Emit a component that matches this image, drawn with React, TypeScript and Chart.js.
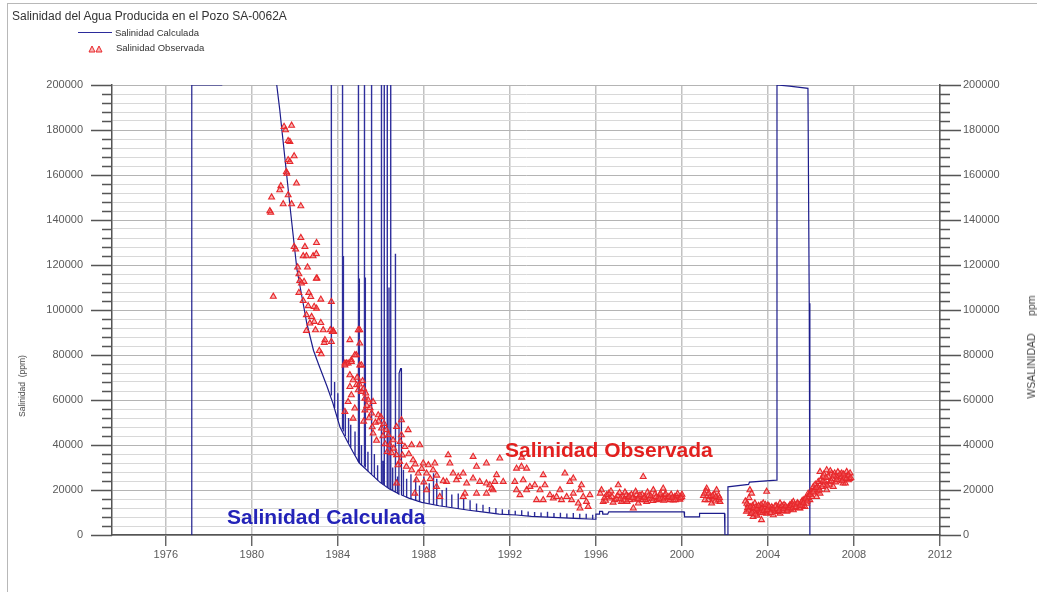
import React, { useEffect, useRef } from "react";
import { Chart, registerables } from "chart.js";

Chart.register(...registerables);

// ---------- Texts ----------
const TITLE = "Salinidad del Agua Producida en el Pozo SA-0062A";
const LEGEND_CALC = "Salinidad Calculada";
const LEGEND_OBS = "Salinidad Observada";
const Y_TITLE_LEFT = "Salinidad  (ppm)";
const Y_TITLE_RIGHT = "WSALINIDAD      ppm";
const NOTE_OBS = "Salinidad Observada";
const NOTE_CALC = "Salinidad Calculada";

// ---------- Axes ----------
const X_MIN = 1973.5;
const X_MAX = 2012;
const xTickYears = [1976, 1980, 1984, 1988, 1992, 1996, 2000, 2004, 2008, 2012];
const Y_MIN = 0;
const Y_MAX = 200000;
const yMajorTicks = [0, 20000, 40000, 60000, 80000, 100000, 120000, 140000, 160000, 180000, 200000];
const Y_MINOR_STEP = 4000;

// ---------- Salinidad Calculada: base curve [year, ppm] ----------
const calcCurve: [number, number][] = [
  [1977.2, 0], [1977.21, 200000], [1978.6, 200000], [1978.66, 250000], [1980.5, 290000],
  [1981.0, 215000], [1981.16, 200000], [1981.3, 189000], [1981.6, 162000], [1981.8, 144000],
  [1981.96, 130000], [1982.1, 118000], [1982.33, 106000], [1982.56, 94000], [1982.87, 82000],
  [1983.1, 76000], [1983.3, 71000], [1983.5, 66000], [1983.77, 58600], [1984.1, 48000],
  [1984.42, 42000], [1984.7, 37000], [1985.0, 32000], [1985.5, 27500], [1985.95, 23500],
  [1986.4, 20500], [1986.74, 18800], [1986.84, 18200], [1986.85, 72000], [1986.92, 74000],
  [1986.95, 74000], [1986.96, 17800], [1987.3, 16400], [1987.9, 14500], [1988.7, 13000],
  [1989.4, 12000], [1990.1, 11000], [1990.8, 10200], [1991.5, 9300], [1992.3, 8900],
  [1993.0, 8300], [1994.0, 7800], [1995.0, 7400], [1995.98, 7000], [1996.0, 9300],
  [1996.15, 9300], [1996.17, 10500], [1996.3, 10500], [1996.32, 9300], [1996.55, 9300],
  [1996.6, 10300], [2000.1, 10300], [2000.12, 8100], [2000.8, 8100], [2000.82, 9600],
  [2001.98, 9600], [2002.0, 0], [2002.1, 0], [2002.14, 21400], [2003.1, 22500],
  [2003.14, 23500], [2004.4, 24400], [2004.42, 200000], [2005.0, 199500], [2005.86, 198500],
  [2005.92, 103000], [2005.95, 0],
];

// ---------- Salinidad Calculada: spikes ----------
const spikeYears = [
  1983.7, 1984.22, 1984.26, 1984.96, 1985.0, 1985.24, 1985.28, 1985.57, 1986.03, 1986.16,
  1986.3, 1986.38, 1986.46, 1986.68,
  1983.85, 1984.0, 1984.35, 1984.5, 1984.6, 1984.8, 1985.1, 1985.4, 1985.7, 1985.85,
  1986.1, 1986.55, 1986.78, 1987.05, 1987.2, 1987.4, 1987.62, 1987.8, 1988.0, 1988.25,
  1988.45, 1988.6, 1988.85, 1989.05, 1989.3, 1989.6, 1989.85, 1990.15, 1990.45, 1990.75,
  1991.05, 1991.35, 1991.65, 1991.95, 1992.25, 1992.55, 1992.85, 1993.15, 1993.45, 1993.75,
  1994.05, 1994.35, 1994.65, 1994.95, 1995.25, 1995.55, 1995.85,
];
const spikeBases = [
  62000, 47000, 46000, 32500, 32000, 30500, 30000, 27000, 23000, 22200,
  21200, 20700, 20200, 19000,
  56500, 51000, 44000, 41000, 39000, 35500, 31000, 28300, 25800, 24300,
  22600, 19800, 18600, 17400, 16800, 16000, 15300, 14800, 14300, 13900,
  13500, 13200, 12800, 12500, 12200, 11700, 11400, 11000, 10600, 10300,
  9900, 9500, 9200, 9100, 8900, 8700, 8400, 8200, 8100, 7900,
  7800, 7700, 7600, 7400, 7300, 7200, 7000,
];
const spikePeaks = [
  260000, 260000, 124000, 260000, 114000, 260000, 114500, 260000, 260000, 260000,
  260000, 110000, 260000, 125000,
  68000, 63000, 56000, 52000, 49000, 46000, 40000, 37000, 36000, 31000,
  33000, 30000, 26000, 29000, 25000, 27000, 25500, 22000, 26000, 23000,
  27500, 25000, 20000, 21000, 18000, 18500, 16000, 15500, 14000, 13500,
  12500, 12000, 11500, 11200, 10800, 11000, 10500, 10200, 10000, 10300,
  9800, 9900, 9600, 9800, 9500, 9400, 9000,
];

// ---------- Salinidad Observada [year, ppm] ----------
const obs1981to1985: [number, number][] = [
  [1981.5, 181500], [1981.85, 182000], [1981.57, 180000], [1981.77, 174800], [1981.69, 175200],
  [1981.97, 168400], [1981.69, 166700], [1981.77, 165900], [1981.61, 161400], [1981.63, 160700],
  [1982.08, 156300], [1981.35, 155100], [1981.3, 153300], [1980.92, 150100], [1981.69, 151100],
  [1981.46, 147100], [1981.85, 147100], [1982.28, 146200], [1980.88, 143300], [1980.84, 144000],
  [1982.28, 132100], [1983.01, 129900], [1981.97, 128100], [1982.47, 128100], [1982.04, 127000],
  [1982.39, 124000], [1982.54, 124000], [1982.85, 124000], [1982.13, 119000], [1982.59, 119000],
  [1982.19, 116000], [1983.03, 114100], [1982.23, 113000], [1982.43, 112600], [1982.31, 111900],
  [1982.19, 107700], [1981.0, 106000], [1982.65, 107700], [1982.74, 105900], [1983.21, 104700],
  [1982.39, 104100], [1983.7, 103700], [1982.62, 101800], [1982.9, 101500], [1983.01, 100700],
  [1982.54, 97800], [1982.78, 97000], [1982.7, 94100], [1982.9, 94800], [1983.21, 94300],
  [1982.54, 90800], [1982.96, 91100], [1983.32, 91100], [1983.78, 90800], [1983.74, 90300],
  [1983.7, 85900], [1983.37, 85500], [1984.56, 86700], [1983.14, 81900], [1983.23, 80400],
  [1985.02, 91100], [1985.02, 85200], [1984.33, 76300], [1984.63, 77800], [1985.02, 75500],
  [1984.86, 80000], [1983.0, 125000], [1983.0, 114000], [1983.65, 91100], [1983.8, 90300],
  [1983.4, 86700], [1984.95, 91100], [1984.4, 76300],
];
const obs1985to1992: [number, number][] = [
  [1984.79, 80000], [1984.48, 76300], [1984.63, 77000], [1984.33, 75500], [1984.56, 71100],
  [1985.1, 75500], [1984.71, 68900], [1984.87, 66700], [1984.56, 65900], [1984.95, 64400],
  [1985.1, 63700], [1984.63, 62200], [1984.48, 59200], [1985.26, 60700], [1985.41, 60000],
  [1985.64, 59200], [1984.79, 56300], [1984.33, 54800], [1985.26, 55500], [1985.57, 54100],
  [1985.88, 53300], [1984.71, 51800], [1986.03, 47400], [1986.96, 51100], [1986.73, 48100],
  [1987.27, 46700], [1986.26, 46700], [1985.64, 45200], [1986.96, 44400], [1986.57, 42200],
  [1986.42, 40000], [1987.43, 40000], [1987.81, 40000], [1987.12, 39200], [1986.73, 35600],
  [1986.88, 32600], [1987.5, 33300], [1987.19, 30400], [1986.8, 31100], [1987.97, 31900],
  [1988.21, 31100], [1988.51, 31900], [1988.43, 28900], [1987.43, 28900], [1987.74, 27400],
  [1988.13, 27400], [1989.13, 35600], [1989.21, 31900], [1989.36, 27400], [1989.6, 25900],
  [1989.83, 27400], [1990.29, 34800], [1990.45, 30400], [1990.91, 31900], [1991.53, 34100],
  [1991.38, 26700], [1991.69, 23700], [1989.06, 23700], [1989.52, 24400], [1989.99, 23000],
  [1990.29, 25200], [1990.6, 23700], [1990.91, 23000], [1991.07, 22200], [1991.22, 20000],
  [1990.45, 18500], [1989.91, 18500], [1989.83, 17000], [1990.91, 18500], [1986.73, 23000],
  [1987.66, 24400], [1988.13, 20000], [1988.59, 21500], [1988.74, 17000], [1987.58, 18500],
  [1991.3, 23700], [1991.15, 20700], [1985.6, 48000], [1985.9, 50500], [1986.1, 44000],
  [1985.8, 42000], [1986.3, 37000], [1986.5, 36500],
  [1984.9, 70000], [1985.0, 67000], [1985.15, 68500], [1985.2, 65000], [1985.3, 63000],
  [1985.35, 57500], [1985.45, 52000], [1985.5, 56500], [1985.2, 50500], [1985.75, 50000],
  [1986.0, 52500], [1986.15, 49500], [1986.35, 44500], [1986.2, 40500], [1986.6, 38500],
  [1986.9, 41500], [1987.0, 35500], [1987.3, 36000], [1987.6, 31500], [1987.9, 29500],
  [1988.0, 23500], [1988.3, 25000], [1988.6, 26500], [1988.9, 24000],
];
const obs1992to2002: [number, number][] = [
  [1992.31, 29600], [1992.78, 29600], [1992.54, 30400], [1992.23, 23700], [1992.62, 24400],
  [1992.31, 20000], [1992.78, 20000], [1992.47, 17800], [1992.93, 21500], [1993.16, 22200],
  [1993.55, 26700], [1993.4, 20000], [1993.63, 22200], [1993.86, 17800], [1993.24, 15600],
  [1993.55, 15600], [1994.02, 16300], [1994.33, 20000], [1994.56, 27400], [1994.79, 23700],
  [1994.95, 25200], [1994.64, 17000], [1994.95, 18500], [1995.26, 20000], [1995.33, 22200],
  [1995.41, 17000], [1995.72, 17800], [1995.64, 12600], [1995.18, 14100], [1994.87, 15600],
  [1994.4, 15600], [1994.17, 17000], [1995.56, 14800], [1995.26, 11900], [1992.55, 34500],
  [1996.26, 20000], [1996.34, 14800], [1996.5, 17800], [1996.65, 16300], [1997.04, 22200],
  [1997.27, 17000], [1997.58, 15600], [1997.74, 11900], [1997.89, 17800], [1998.2, 25900],
  [1998.28, 17000], [1998.51, 16300], [1998.67, 20000], [1998.82, 15600], [1998.98, 17800],
  [1999.13, 20700], [1999.29, 16300], [1999.44, 15600], [1999.67, 17000], [1999.83, 16300],
  [1999.99, 17000], [1998.13, 15600], [1998.36, 14800], [1997.97, 14100], [1996.88, 15600],
  [1997.19, 14800], [1997.42, 17800],
  [1996.4, 16500], [1996.6, 18500], [1996.75, 17000], [1996.95, 16000], [1997.1, 18800],
  [1997.3, 15500], [1997.5, 16800], [1997.65, 18000], [1997.8, 15800], [1998.0, 16800],
  [1998.15, 18000], [1998.3, 15600], [1998.45, 17500], [1998.6, 16000], [1998.75, 18200],
  [1998.9, 16500], [1999.05, 15800], [1999.2, 17800], [1999.35, 16400], [1999.5, 18000],
  [1999.6, 15400], [1999.75, 17300], [1999.9, 15800], [2000.0, 18000],
  [1996.2, 18500], [1996.45, 15300], [1996.7, 19500], [1996.8, 14500], [1997.0, 17500],
  [1997.15, 16200], [1997.35, 19000], [1997.45, 14800], [1997.55, 17200], [1997.7, 16500],
  [1997.85, 19300], [1997.95, 16000], [1998.05, 17700], [1998.25, 16500], [1998.4, 19000],
  [1998.55, 17300], [1998.65, 15200], [1998.8, 17000], [1998.95, 16000], [1999.0, 18500],
  [1999.15, 15300], [1999.25, 18200], [1999.4, 17000], [1999.55, 16600], [1999.7, 15600],
  [1999.8, 18300], [1999.95, 16500],
  [2001.15, 20700], [2001.3, 17000], [2001.22, 15600], [2001.46, 16300], [2001.61, 20000],
  [2001.69, 15600], [2001.77, 14800], [2001.38, 14100], [2001.07, 15600], [2001.0, 17500],
  [2001.12, 19500], [2001.5, 18000], [2001.55, 15000], [2001.7, 17500], [2001.05, 18500],
  [2001.25, 18500], [2001.42, 17500], [2001.58, 17000], [2001.75, 16500],
];
const obs2002to2008: [number, number][] = [
  [2003.16, 20000], [2003.24, 18500], [2003.08, 13300], [2003.0, 10400], [2003.31, 8100],
  [2003.7, 6700], [2003.63, 12600], [2003.94, 19300], [2004.02, 11900], [2004.25, 11100],
  [2004.48, 12600], [2004.79, 11900], [2005.02, 13300], [2005.33, 13300], [2005.64, 15600],
  [2005.87, 18500], [2006.11, 21500], [2006.34, 23700], [2006.42, 28100], [2006.57, 25900],
  [2006.73, 28900], [2006.96, 27400], [2007.2, 25900], [2007.43, 27400], [2007.66, 28100],
  [2007.74, 24400], [2007.5, 23000], [2007.04, 21500], [2006.73, 20000], [2006.42, 18500],
  [2006.26, 17000], [2005.95, 15600], [2005.72, 12600], [2005.49, 11900], [2005.18, 11100],
  [2004.87, 10400], [2004.56, 9600], [2004.25, 8900], [2003.94, 9600], [2003.55, 10400],
  [2003.24, 11900], [2003.39, 14100], [2003.78, 14100], [2004.56, 14100], [2005.18, 14800],
  [2007.35, 25200], [2006.88, 23700], [2006.57, 22200],
  [2002.95, 15000], [2003.05, 12000], [2003.12, 16500], [2003.2, 9500], [2003.28, 13000],
  [2003.35, 10500], [2003.45, 12500], [2003.5, 8700], [2003.6, 11000], [2003.68, 13500],
  [2003.75, 9800], [2003.85, 12000], [2003.92, 10500], [2004.0, 13200], [2004.1, 10000],
  [2004.18, 12400], [2004.3, 11000], [2004.38, 13000], [2004.45, 10300], [2004.6, 12000],
  [2004.7, 10800], [2004.75, 13400], [2004.85, 11800], [2004.95, 12500], [2005.05, 11500],
  [2005.1, 14000], [2005.25, 12300], [2005.4, 13800], [2005.45, 12000], [2005.55, 14500],
  [2005.6, 13000], [2005.7, 15500], [2005.8, 14000], [2005.85, 16500], [2005.9, 17800],
  [2006.0, 19000], [2006.05, 17000], [2006.15, 20000], [2006.2, 22500], [2006.3, 19500],
  [2006.35, 21000], [2006.45, 24500], [2006.5, 21500], [2006.6, 27000], [2006.65, 23500],
  [2006.8, 26000], [2006.85, 22500], [2006.9, 28500], [2007.0, 25000], [2007.1, 27500],
  [2007.15, 23500], [2007.25, 28000], [2007.3, 24500], [2007.4, 26000], [2007.55, 25500],
  [2007.6, 23000], [2007.7, 26500], [2007.8, 25000], [2007.82, 27500],
  [2003.02, 14000], [2003.1, 11000], [2003.18, 12500], [2003.26, 10000], [2003.33, 12000],
  [2003.42, 9200], [2003.48, 11500], [2003.56, 13000], [2003.65, 10000], [2003.72, 11800],
  [2003.8, 10800], [2003.88, 13500], [2003.96, 11200], [2004.05, 12800], [2004.13, 9800],
  [2004.22, 11800], [2004.33, 12800], [2004.42, 11600], [2004.52, 10800], [2004.65, 13000],
  [2004.72, 11500], [2004.82, 12800], [2004.9, 10900], [2005.0, 12200], [2005.08, 13000],
  [2005.15, 12000], [2005.22, 13500], [2005.3, 12500], [2005.37, 14200], [2005.5, 13200],
  [2005.58, 15000], [2005.65, 14200], [2005.75, 16200], [2005.82, 15000], [2005.97, 18000],
  [2006.1, 19000], [2006.25, 21000], [2006.4, 20000], [2006.55, 24000], [2006.7, 25500],
  [2006.75, 22000], [2006.95, 24000], [2007.05, 26500], [2007.2, 24500], [2007.35, 27000],
  [2007.45, 24000], [2007.52, 27000], [2007.65, 25000], [2007.75, 26500], [2007.85, 25500],
];

// ---------- Styling ----------
const FONT = "'Liberation Sans', Arial, Helvetica, sans-serif";
const CALC_COLOR = "#1d1d8c";
const SPIKE_COLOR = "#2e2e9c";
const OBS_BORDER = "#e8282c";
const OBS_FILL = "rgba(240,90,90,0.45)";
const AXIS_COLOR = "#555555";
const LABEL_COLOR = "#5a5a5a";

const W = 1037;
const H = 592;
const PLOT_LEFT = 112;
const PLOT_RIGHT = 940;
const PLOT_TOP = 85;
const PLOT_BOTTOM = 535;

export default function App() {
  const canvasRef = useRef<HTMLCanvasElement | null>(null);

  useEffect(() => {
    const canvas = canvasRef.current;
    if (!canvas) return;

    const yAllTicks: number[] = [];
    for (let v = Y_MIN; v <= Y_MAX; v += Y_MINOR_STEP) yAllTicks.push(v);
    const isMajor = (v: number) => yMajorTicks.indexOf(v) >= 0;

    const calcPoints = calcCurve.map(([x, y]) => ({ x, y }));
    const spikePoints: { x: number; y: number | null }[] = [];
    spikeYears.forEach((x, i) => {
      spikePoints.push({ x, y: spikeBases[i] });
      spikePoints.push({ x, y: spikePeaks[i] });
      spikePoints.push({ x, y: null });
    });
    const obsPoints = [...obs1981to1985, ...obs1985to1992, ...obs1992to2002, ...obs2002to2008].map(
      ([x, y]) => ({ x, y })
    );

    const axisTicks = {
      id: "axisTicks",
      afterDraw(chart: any) {
        const ctx = chart.ctx;
        const { left, right } = chart.chartArea;
        const ys = chart.scales.y;
        ctx.save();
        ctx.strokeStyle = AXIS_COLOR;
        ctx.lineWidth = 1.3;
        for (const v of yAllTicks) {
          const py = Math.round(ys.getPixelForValue(v)) + 0.5;
          const len = isMajor(v) ? 21 : 10;
          ctx.beginPath();
          ctx.moveTo(left - len, py);
          ctx.lineTo(left, py);
          ctx.moveTo(right, py);
          ctx.lineTo(right + len, py);
          ctx.stroke();
        }
        ctx.restore();
      },
    };

    const yTickCommon = {
      autoSkip: false,
      color: LABEL_COLOR,
      font: { family: FONT, size: 11 },
      callback: (v: any) => (isMajor(Number(v)) ? String(v) : ""),
    };

    const chart = new Chart(canvas, {
      type: "scatter",
      data: {
        datasets: [
          {
            label: LEGEND_OBS,
            data: obsPoints,
            pointStyle: "triangle",
            pointRadius: 3.4,
            borderColor: OBS_BORDER,
            backgroundColor: OBS_FILL,
            borderWidth: 1.1,
            order: 0,
          },
          {
            label: LEGEND_CALC,
            data: calcPoints,
            showLine: true,
            borderColor: CALC_COLOR,
            borderWidth: 1.2,
            pointRadius: 0,
            tension: 0,
            order: 1,
          } as any,
          {
            label: LEGEND_CALC + " (picos)",
            data: spikePoints,
            showLine: true,
            spanGaps: false,
            borderColor: SPIKE_COLOR,
            borderWidth: 1.4,
            pointRadius: 0,
            tension: 0,
            order: 2,
          } as any,
        ],
      },
      options: {
        responsive: false,
        animation: false,
        devicePixelRatio: 1,
        layout: { padding: { top: PLOT_TOP, left: 0, right: 0, bottom: 0 } },
        plugins: {
          legend: { display: false },
          tooltip: { enabled: false },
          title: { display: false },
        },
        scales: {
          x: {
            type: "linear",
            min: X_MIN,
            max: X_MAX,
            afterBuildTicks: (s: any) => {
              s.ticks = xTickYears.map((v) => ({ value: v }));
            },
            afterFit: (s: any) => {
              s.height = H - PLOT_BOTTOM;
            },
            grid: {
              color: "#c2c2c2",
              lineWidth: 1.5,
              drawTicks: true,
              tickLength: 11,
              tickColor: AXIS_COLOR,
              tickWidth: 1.3,
            },
            border: { color: AXIS_COLOR, width: 1.5 },
            ticks: {
              autoSkip: false,
              maxRotation: 0,
              padding: 2,
              color: LABEL_COLOR,
              font: { family: FONT, size: 11 },
              callback: (v: any) => String(v),
            },
          },
          y: {
            type: "linear",
            position: "left",
            min: Y_MIN,
            max: Y_MAX,
            afterBuildTicks: (s: any) => {
              s.ticks = yAllTicks.map((v) => ({ value: v }));
            },
            afterFit: (s: any) => {
              s.width = PLOT_LEFT;
            },
            grid: {
              color: (c: any) => (c.tick && isMajor(c.tick.value) ? "#b4b4b4" : "#d8d8d8"),
              lineWidth: 1,
              drawTicks: false,
            },
            border: { color: AXIS_COLOR, width: 1.5 },
            ticks: { ...yTickCommon, padding: 29 },
          },
          y2: {
            type: "linear",
            position: "right",
            min: Y_MIN,
            max: Y_MAX,
            afterBuildTicks: (s: any) => {
              s.ticks = yAllTicks.map((v) => ({ value: v }));
            },
            afterFit: (s: any) => {
              s.width = W - PLOT_RIGHT;
            },
            grid: { display: true, drawOnChartArea: false, drawTicks: false },
            border: { color: AXIS_COLOR, width: 1.5 },
            ticks: { ...yTickCommon, padding: 23 },
          },
        },
      } as any,
      plugins: [axisTicks],
    });

    return () => chart.destroy();
  }, []);

  const text = (extra: React.CSSProperties): React.CSSProperties => ({
    position: "absolute",
    fontFamily: FONT,
    whiteSpace: "pre",
    ...extra,
  });

  return (
    <div
      style={{
        position: "fixed",
        left: 0,
        top: 0,
        width: W,
        height: H,
        background: "#ffffff",
        overflow: "hidden",
      }}
    >
      <div
        style={{
          position: "absolute",
          left: 7,
          top: 3,
          width: W,
          height: H,
          borderLeft: "1px solid #b8b8b8",
          borderTop: "1px solid #b8b8b8",
        }}
      />
      <canvas ref={canvasRef} width={W} height={H} style={{ position: "absolute", left: 0, top: 0 }} />

      <div style={text({ left: 12, top: 9, fontSize: 12, lineHeight: "14px", color: "#333" })}>{TITLE}</div>

      <div
        style={{ position: "absolute", left: 78, top: 32, width: 34, height: 0, borderTop: "1.5px solid #2b2b9b" }}
      />
      <div style={text({ left: 115, top: 27, fontSize: 9.5, lineHeight: "12px", color: "#333" })}>{LEGEND_CALC}</div>
      <svg style={{ position: "absolute", left: 86, top: 44 }} width={18} height={9}>
        <polygon points="3,8 6,2 9,8" fill="rgba(240,90,90,0.45)" stroke="#e8282c" strokeWidth={1} />
        <polygon points="10,8 13,2 16,8" fill="rgba(240,90,90,0.45)" stroke="#e8282c" strokeWidth={1} />
      </svg>
      <div style={text({ left: 116, top: 42, fontSize: 9.5, lineHeight: "12px", color: "#333" })}>{LEGEND_OBS}</div>

      <div
        style={text({
          left: 22,
          top: 386,
          fontSize: 8.5,
          color: "#444",
          transform: "translate(-50%, -50%) rotate(-90deg)",
        })}
      >
        {Y_TITLE_LEFT}
      </div>
      <div
        style={text({
          left: 1031,
          top: 347,
          fontSize: 10.5,
          color: "#444",
          transform: "translate(-50%, -50%) rotate(-90deg)",
        })}
      >
        {Y_TITLE_RIGHT}
      </div>

      <div
        style={text({ left: 505, top: 439, fontSize: 21, lineHeight: "21px", fontWeight: "bold", color: "#e3201f" })}
      >
        {NOTE_OBS}
      </div>
      <div
        style={text({ left: 227, top: 506, fontSize: 21, lineHeight: "21px", fontWeight: "bold", color: "#2323b8" })}
      >
        {NOTE_CALC}
      </div>
    </div>
  );
}
